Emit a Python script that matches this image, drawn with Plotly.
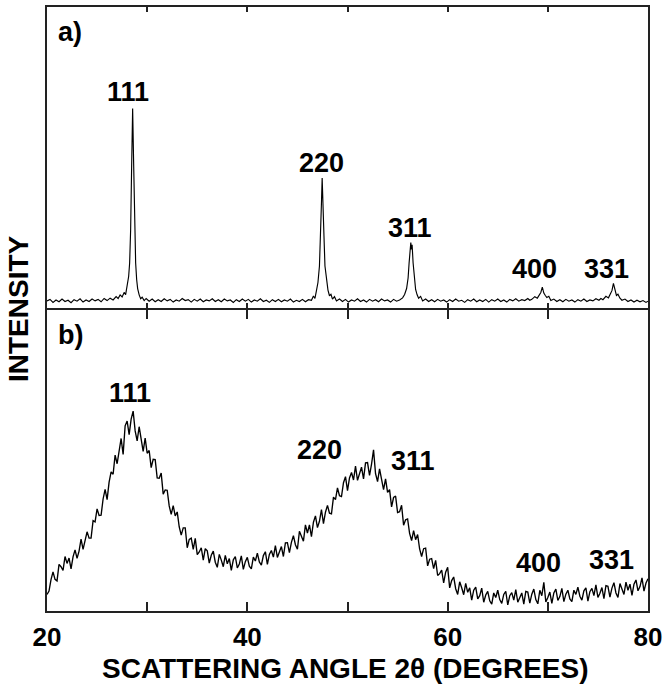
import numpy as np
import plotly.graph_objects as go

# ---------------- data ----------------
# panel a) crystalline pattern (2theta in degrees, intensity arb. units)
a_angle = [20.0, 20.3, 20.6, 20.9, 21.2, 21.5, 21.8, 22.1, 22.4, 22.7, 23.0, 23.3, 23.6, 23.9, 24.2, 24.5,
           24.8, 25.1, 25.4, 25.7, 26.0, 26.3, 26.6, 26.9, 27.1, 27.3, 27.5, 27.7, 27.85, 28.0, 28.15, 28.25,
           28.35, 28.45, 28.55, 28.65, 28.75, 28.85, 28.95, 29.05, 29.2, 29.35, 29.5, 29.7, 29.9, 30.2, 30.5,
           30.8, 31.1, 31.4, 31.7, 32.0, 32.3, 32.6, 32.9, 33.2, 33.5, 33.8, 34.1, 34.4, 34.7, 35.0, 35.3,
           35.6, 35.9, 36.2, 36.5, 36.8, 37.1, 37.4, 37.7, 38.0, 38.3, 38.6, 38.9, 39.2, 39.5, 39.8, 40.1,
           40.4, 40.7, 41.0, 41.3, 41.6, 41.9, 42.2, 42.5, 42.8, 43.1, 43.4, 43.7, 44.0, 44.3, 44.6, 44.9,
           45.2, 45.5, 45.8, 46.1, 46.4, 46.6, 46.75, 46.9, 47.05, 47.2, 47.3, 47.4, 47.47, 47.55, 47.65,
           47.75, 47.85, 47.95, 48.05, 48.2, 48.35, 48.5, 48.7, 48.9, 49.2, 49.5, 49.8, 50.1, 50.4, 50.7,
           51.0, 51.3, 51.6, 51.9, 52.2, 52.5, 52.8, 53.1, 53.4, 53.7, 54.0, 54.3, 54.6, 54.9, 55.2, 55.5,
           55.7, 55.9, 56.05, 56.15, 56.25, 56.32, 56.38, 56.45, 56.55, 56.65, 56.8, 56.95, 57.1, 57.3,
           57.5, 57.8, 58.1, 58.4, 58.7, 59.0, 59.3, 59.6, 59.9, 60.2, 60.5, 60.8, 61.1, 61.4, 61.7, 62.0,
           62.3, 62.6, 62.9, 63.2, 63.5, 63.8, 64.1, 64.4, 64.7, 65.0, 65.3, 65.6, 65.9, 66.2, 66.5, 66.8,
           67.1, 67.4, 67.7, 68.0, 68.2, 68.4, 68.7, 68.95, 69.15, 69.3, 69.45, 69.6, 69.75, 69.9, 70.1,
           70.3, 70.6, 70.9, 71.2, 71.5, 71.8, 72.1, 72.4, 72.7, 73.0, 73.3, 73.6, 73.9, 74.2, 74.5, 74.8,
           75.1, 75.3, 75.5, 75.8, 76.05, 76.25, 76.4, 76.55, 76.7, 76.85, 77.0, 77.2, 77.4, 77.7, 78.0,
           78.3, 78.6, 78.9, 79.2, 79.5, 79.8, 80.0]
a_intensity = [2.4, 2.9, 1.9, 2.7, 2.1, 3.0, 2.2, 2.6, 1.8, 2.8, 2.3, 3.1, 2.0, 2.7, 2.2, 3.0,
               2.4, 2.9, 2.1, 3.2, 2.5, 3.3, 2.7, 3.8, 3.2, 4.4, 3.7, 5.2, 4.5, 7.0, 10.5, 15.0,
               26.0, 47.0, 66.3, 48.0, 27.0, 15.0, 9.5, 6.5, 4.4, 3.1, 3.6, 2.5, 3.2, 2.3, 3.0,
               2.1, 2.8, 2.2, 3.1, 2.4, 2.9, 2.0, 2.7, 2.3, 3.2, 2.5, 2.8, 2.0, 2.9, 2.3, 3.0,
               2.1, 2.7, 2.4, 3.1, 2.2, 2.8, 2.1, 3.0, 2.4, 2.7, 1.9, 2.8, 2.2, 3.0, 2.3, 2.9,
               2.0, 2.7, 2.3, 3.1, 2.2, 2.6, 1.9, 2.8, 2.2, 2.9, 2.1, 2.7, 2.3, 3.0, 2.0, 2.6,
               2.2, 2.9, 2.1, 2.8, 2.6, 4.0, 3.2, 5.8, 8.5, 14.0, 22.0, 35.0, 43.2, 37.0, 24.0,
               14.0, 10.5, 8.8, 6.0, 4.1, 4.6, 3.0, 3.8, 2.4, 3.0, 2.2, 2.9, 2.0, 2.7, 2.3,
               3.1, 2.2, 2.7, 2.0, 2.9, 2.3, 2.8, 2.1, 3.0, 2.4, 2.7, 2.0, 2.9, 2.3, 2.7, 3.4,
               4.5, 6.5, 10.0, 15.0, 20.5, 21.8, 19.5, 21.0, 15.0, 10.0, 6.2, 4.4, 3.3, 3.9,
               2.4, 3.0, 2.2, 2.8, 2.1, 2.9, 2.3, 2.7, 2.0, 2.8, 2.2, 3.0, 2.3, 2.6, 1.9, 2.8,
               2.3, 3.0, 2.1, 2.7, 2.2, 2.9, 2.0, 2.8, 2.3, 3.0, 2.2, 2.7, 2.0, 2.9, 2.4, 3.1,
               2.3, 2.8, 2.5, 3.2, 2.6, 2.9, 3.8, 3.3, 4.6, 5.2, 7.0, 5.0, 4.2, 3.5, 3.9,
               2.5, 3.0, 2.2, 2.8, 2.1, 2.9, 2.3, 2.7, 2.0, 2.8, 2.3, 3.0, 2.2, 2.7, 2.4, 3.1,
               2.6, 3.2, 2.8, 3.9, 3.4, 4.8, 5.8, 8.2, 6.0, 4.2, 4.6, 3.3, 2.6, 3.0, 2.2,
               2.7, 2.0, 2.6, 2.1, 2.5, 1.9, 2.3]

# panel b) nanocrystalline pattern, sampled every 0.2 degree from 20 to 80
b_start, b_step = 20.0, 0.2
b_intensity = [
    5.5, 6.6, 10.4, 13.0, 10.5, 10.0, 15.5, 14.7, 13.5, 18.1,
    15.8, 17.6, 14.0, 18.0, 20.3, 17.5, 19.9, 23.9, 20.5, 24.0,
    26.3, 24.2, 24.2, 30.0, 29.6, 33.9, 31.7, 31.8, 37.2, 40.4,
    37.0, 42.8, 46.2, 45.4, 51.8, 48.9, 52.8, 57.3, 52.0, 61.5,
    63.1, 58.6, 63.7, 66.4, 59.8, 56.5, 61.2, 57.2, 53.0, 57.4,
    52.4, 53.3, 47.6, 50.4, 50.3, 44.2, 44.1, 45.8, 38.8, 40.2,
    40.1, 34.9, 32.1, 35.0, 31.6, 32.9, 27.9, 25.2, 27.6, 27.6,
    21.0, 23.8, 24.2, 20.5, 24.1, 18.7, 19.6, 21.0, 16.9, 20.7,
    20.0, 15.9, 18.5, 19.9, 16.2, 14.5, 18.8, 16.9, 14.7, 18.5,
    15.7, 17.4, 13.5, 17.0, 18.1, 14.3, 15.6, 18.3, 13.8, 16.4,
    17.8, 14.9, 14.0, 17.9, 16.6, 19.2, 16.3, 15.2, 18.4, 19.7,
    15.5, 18.8, 20.1, 17.9, 21.7, 17.8, 19.3, 21.4, 18.1, 22.6,
    22.7, 19.4, 22.8, 25.0, 22.0, 20.5, 26.5, 25.0, 23.2, 28.6,
    25.9, 28.6, 24.7, 29.5, 31.6, 27.7, 29.8, 33.7, 29.0, 32.8,
    35.1, 32.5, 32.3, 37.8, 37.0, 40.9, 38.3, 38.0, 42.6, 44.6,
    40.0, 44.2, 46.0, 43.5, 48.1, 43.4, 45.3, 47.8, 43.9, 49.2,
    49.3, 45.0, 48.8, 53.5, 45.6, 43.0, 47.2, 43.9, 40.3, 43.9,
    39.4, 40.3, 34.6, 37.7, 38.2, 32.7, 33.0, 35.1, 28.5, 30.3,
    30.6, 25.8, 23.4, 26.7, 23.7, 25.4, 20.6, 18.1, 20.7, 20.9,
    15.0, 17.2, 17.4, 14.1, 16.8, 11.8, 12.4, 13.6, 9.3, 12.9,
    14.5, 7.7, 10.1, 11.3, 7.4, 5.5, 9.7, 7.7, 5.4, 9.2,
    6.2, 7.7, 3.6, 6.9, 7.9, 4.0, 5.1, 7.6, 2.9, 5.3,
    6.5, 3.4, 2.3, 6.0, 4.5, 6.9, 3.8, 2.5, 5.5, 6.5,
    2.0, 5.1, 6.1, 3.6, 7.1, 2.9, 4.2, 6.0, 2.3, 6.5,
    6.3, 2.6, 5.6, 7.3, 3.8, 2.4, 6.9, 5.1, 9.5, 3.0,
    4.5, 6.3, 2.5, 6.0, 7.3, 3.5, 4.8, 7.5, 3.1, 5.6,
    6.9, 4.0, 3.1, 6.9, 5.5, 7.9, 4.9, 3.6, 6.7, 7.7,
    3.3, 6.4, 7.5, 5.1, 8.7, 4.5, 5.9, 7.8, 4.1, 8.4,
    8.2, 4.6, 7.6, 9.4, 6.0, 4.5, 9.1, 7.5, 5.5, 9.6,
    6.9, 8.9, 5.2, 8.9, 10.3, 6.7, 8.1, 11.0, 6.6, 9.3,
    10.7]
b_angle = b_start + b_step * np.arange(len(b_intensity))

tick_vals = [20, 30, 40, 50, 60, 70, 80]
tick_text = ["20", "", "40", "", "60", "", "80"]
peak_names = ["111", "220", "311", "400", "331"]

# ---------------- figure ----------------
FONT = "Liberation Sans, Arial, Helvetica, sans-serif"
LW = 1.8
gap = (LW / 2) / 606.0

fig = go.Figure()
fig.add_trace(go.Scatter(x=a_angle, y=a_intensity, mode="lines", line=dict(color="black", width=1.15),
                         xaxis="x2", yaxis="y2", showlegend=False, hoverinfo="skip"))
fig.add_trace(go.Scatter(x=b_angle, y=b_intensity, mode="lines", line=dict(color="black", width=1.35),
                         xaxis="x", yaxis="y", showlegend=False, hoverinfo="skip"))

axis_common = dict(showline=True, linecolor="#222", linewidth=LW, showgrid=False, zeroline=False)

fig.update_layout(
    width=667, height=685,
    margin=dict(l=47, r=15, t=5, b=74),
    paper_bgcolor="white", plot_bgcolor="white",
    font=dict(family=FONT, color="black", size=26, weight="bold"),
    xaxis=dict(domain=[0, 1], anchor="y", range=[20, 80], tickvals=tick_vals, ticktext=tick_text,
               ticks="inside", ticklen=9, tickwidth=1.6, tickcolor="#222", mirror="ticks",
               ticklabelstandoff=2,
               tickfont=dict(family=FONT, size=26, weight="bold"), **axis_common),
    yaxis=dict(domain=[0, 0.5 - gap], anchor="x", range=[0, 100], showticklabels=False, ticks="",
               mirror=True, **axis_common),
    xaxis2=dict(domain=[0, 1], anchor="y2", range=[20, 80], tickvals=tick_vals, showticklabels=False,
                ticks="inside", ticklen=5, tickwidth=1.6, tickcolor="#222", mirror="ticks",
                matches="x", **axis_common),
    yaxis2=dict(domain=[0.5 + gap, 1], anchor="x2", range=[0, 100], showticklabels=False, ticks="",
                mirror=True, **axis_common),
)

ann_font = dict(family=FONT, size=27, color="black", weight="bold")
annotations = []
# panel letters
annotations.append(dict(text="a)", x=22.31, y=0.959, xref="x", yref="paper"))
annotations.append(dict(text="b)", x=22.31, y=0.457, xref="x", yref="paper"))
# peak labels panel a
a_lab_x = [28.06, 47.39, 56.21, 68.70, 75.84]
a_lab_y = [0.860, 0.741, 0.634, 0.566, 0.566]
for name, lx, ly in zip(peak_names, a_lab_x, a_lab_y):
    annotations.append(dict(text=name, x=lx, y=ly, xref="x", yref="paper"))
# peak labels panel b
b_lab_x = [28.26, 47.19, 56.51, 69.10, 76.34]
b_lab_y = [0.361, 0.266, 0.249, 0.079, 0.084]
for name, lx, ly in zip(peak_names, b_lab_x, b_lab_y):
    annotations.append(dict(text=name, x=lx, y=ly, xref="x", yref="paper"))
for a in annotations:
    a.update(showarrow=False, font=ann_font, xanchor="center", yanchor="middle")

# axis titles
annotations.append(dict(text="SCATTERING ANGLE 2θ (DEGREES)", x=0.496, y=-0.095, xref="paper", yref="paper",
                        showarrow=False, xanchor="center", yanchor="middle",
                        font=dict(family=FONT, size=28, color="black", weight="bold")))
annotations.append(dict(text="INTENSITY", x=0, xshift=-29, y=0.5, xref="paper", yref="paper",
                        textangle=-90, showarrow=False, xanchor="center", yanchor="middle",
                        font=dict(family=FONT, size=28, color="black", weight="bold")))
fig.update_layout(annotations=annotations)

fig.write_html("out.html")
